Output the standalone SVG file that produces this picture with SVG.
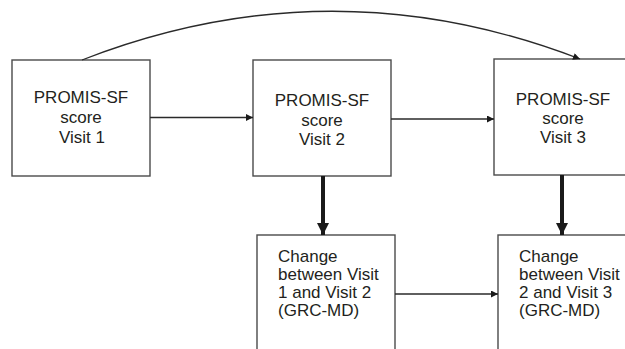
<svg xmlns="http://www.w3.org/2000/svg" width="625" height="349" viewBox="0 0 625 349">
  <style>
    .box { fill: #ffffff; stroke: #4a4a4a; stroke-width: 1.4; }
    .lbl { font-family: "Liberation Sans", Arial, sans-serif; font-size: 17px; fill: #231f20; }
    .mid { text-anchor: middle; }
    .thin { fill: none; stroke: #2a2a2a; stroke-width: 1.3; }
    .thick { fill: none; stroke: #1a1a1a; stroke-width: 4; }
  </style>
  <defs>
    <marker id="ah" viewBox="0 0 10 10" refX="10" refY="5" markerWidth="9" markerHeight="7" markerUnits="userSpaceOnUse" orient="auto">
      <path d="M0,0 L10,5 L0,10 Z" fill="#1a1a1a"/>
    </marker>
    <marker id="ahBig" viewBox="0 0 10 10" refX="10" refY="5" markerWidth="12" markerHeight="13" markerUnits="userSpaceOnUse" orient="auto">
      <path d="M0,0 L10,5 L0,10 Z" fill="#1a1a1a"/>
    </marker>
  </defs>
  <rect width="625" height="349" fill="#ffffff"/>

  <g id="n1">
    <rect class="box" x="12" y="60" width="138" height="116"/>
    <text class="lbl mid" x="81" y="103">PROMIS-SF</text>
    <text class="lbl mid" x="81" y="123">score</text>
    <text class="lbl mid" x="82" y="143">Visit 1</text>
  </g>
  <g id="n2">
    <rect class="box" x="253" y="60" width="138" height="116"/>
    <text class="lbl mid" x="322" y="106">PROMIS-SF</text>
    <text class="lbl mid" x="322" y="126">score</text>
    <text class="lbl mid" x="322" y="145">Visit 2</text>
  </g>
  <g id="n3">
    <rect class="box" x="494" y="59" width="140" height="116"/>
    <text class="lbl mid" x="563" y="105">PROMIS-SF</text>
    <text class="lbl mid" x="563" y="124">score</text>
    <text class="lbl mid" x="563" y="143">Visit 3</text>
  </g>
  <g id="n4">
    <rect class="box" x="257" y="235" width="138" height="130"/>
    <text class="lbl" x="278" y="262">Change</text>
    <text class="lbl" x="278" y="280">between Visit</text>
    <text class="lbl" x="278" y="298">1 and Visit 2</text>
    <text class="lbl" x="278" y="316">(GRC-MD)</text>
  </g>
  <g id="n5">
    <rect class="box" x="498" y="235" width="140" height="130"/>
    <text class="lbl" x="519" y="262">Change</text>
    <text class="lbl" x="519" y="280">between Visit</text>
    <text class="lbl" x="519" y="298">2 and Visit 3</text>
    <text class="lbl" x="519" y="316">(GRC-MD)</text>
  </g>

  <g id="connectors">
    <path class="thin" d="M150,117.5 L253,117.5" marker-end="url(#ah)"/>
    <path class="thin" d="M391,119 L494,119" marker-end="url(#ah)"/>
    <path class="thin" d="M395,294 L498,294" marker-end="url(#ah)"/>
    <path class="thin" d="M82,60 Q331,-37 580,59" marker-end="url(#ah)"/>
    <path class="thick" d="M323,176 L323,235" marker-end="url(#ahBig)"/>
    <path class="thick" d="M562,175 L562,235" marker-end="url(#ahBig)"/>
  </g>
</svg>
